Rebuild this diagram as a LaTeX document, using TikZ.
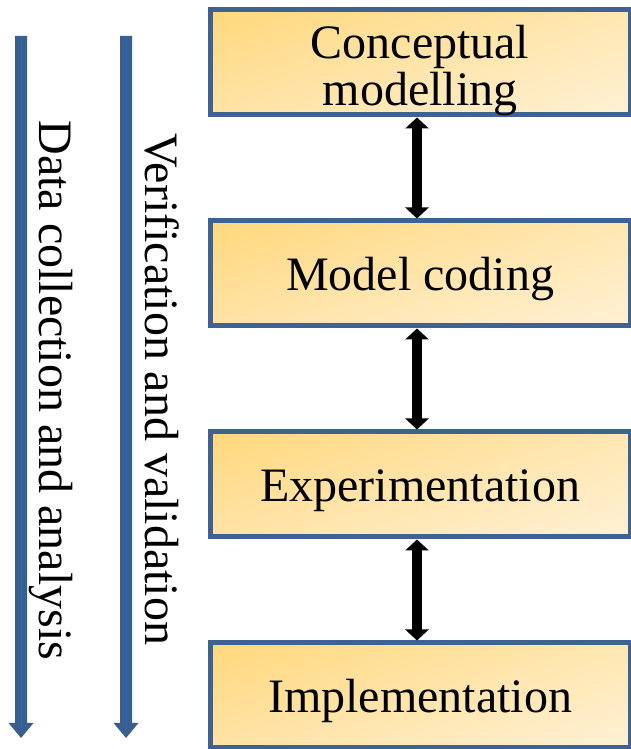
\documentclass[tikz,border=0pt]{standalone}
\usepackage{fontspec}
\setmainfont{Liberation Serif}
\usetikzlibrary{arrows.meta,shadings}

\definecolor{boxedge}{HTML}{3E6392}
\definecolor{flowblue}{HTML}{3A5F8E}
\definecolor{flowline}{HTML}{1F6CC0}
\definecolor{fillTL}{HTML}{FFD87C}
\definecolor{fillTR}{HTML}{FFE7B2}
\definecolor{fillBL}{HTML}{FFE3A6}
\definecolor{fillBR}{HTML}{FFF1D6}

\begin{document}
\begin{tikzpicture}[x=0.5pt,y=0.5pt,
  stage/.style={draw=boxedge, line width=2.5pt, inner sep=0pt,
    minimum width=210pt, minimum height=52.5pt,
    upper left=fillTL, upper right=fillTR, lower left=fillBL, lower right=fillBR,
    font=\fontsize{24}{23.5}\selectfont, align=center,
    text height=17pt, text depth=0pt},
  twoline/.style={text height=43.5pt, text depth=0pt},
  link/.style={line width=4.8pt, black,
    {Triangle[width=11.5pt,length=5.5pt]}-{Triangle[width=11.5pt,length=5.5pt]}},
  sidetext/.style={rotate=-90, anchor=base west, inner sep=0pt,
    font=\fontsize{24}{24}\selectfont},
  flowfill/.style={fill=flowblue},
  flowmid/.style={draw=flowline, line width=0.5pt}]

\useasboundingbox (0,0) rectangle (631,749);

% stages of the study
\node[stage, twoline] (concept) at (420,686.5) {Conceptual\\modelling};
\node[stage] (coding) at (420,475.5) {Model coding};
\node[stage] (experiment) at (420,264.5) {Experimentation};
\node[stage] (implement) at (420,53.5) {Implementation};

% two-way links between consecutive stages
\draw[link] ([xshift=-1.5pt]concept.south) -- ([xshift=-1.5pt]coding.north);
\draw[link] ([xshift=-1.5pt]coding.south) -- ([xshift=-1.5pt]experiment.north);
\draw[link] ([xshift=-1.5pt]experiment.south) -- ([xshift=-1.5pt]implement.north);

% long downward block arrows on the left
\fill[flowfill] (15,713) -- (27,713) -- (27,26) -- (33.5,26) -- (21,11)
  -- (8.5,26) -- (15,26) -- cycle;
\draw[flowmid] (21,713) -- (21,20);
\fill[flowfill] (120,713) -- (132,713) -- (132,26) -- (138.5,26) -- (126,11)
  -- (113.5,26) -- (120,26) -- cycle;
\draw[flowmid] (126,713) -- (126,20);

% labels running alongside the arrows
\node[sidetext] (datalabel) at (40,629) {Data collection and analysis};
\node[sidetext] (vvlabel) at (145,616) {Verification and validation};

\end{tikzpicture}
\end{document}
